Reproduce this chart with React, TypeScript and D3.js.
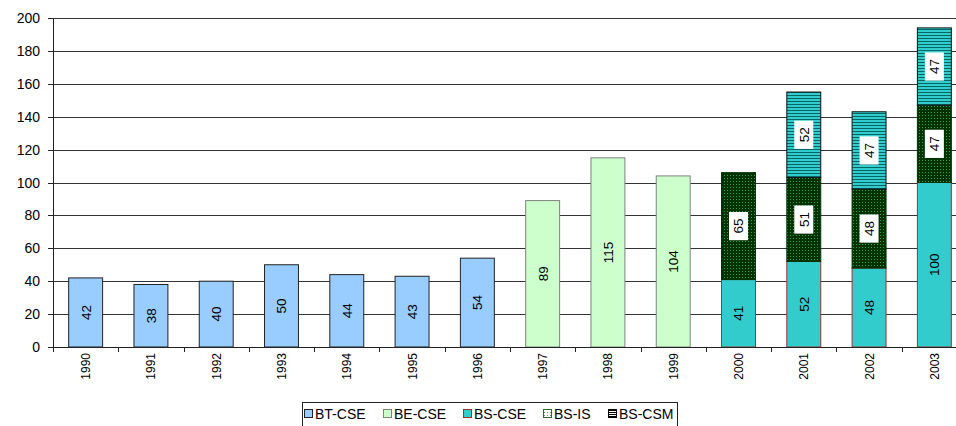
import * as d3 from "d3"

const years = ["1990", "1991", "1992", "1993", "1994", "1995", "1996", "1997", "1998", "1999", "2000", "2001", "2002", "2003"]
const btCse = [42, 38, 40, 50, 44, 43, 54, 0, 0, 0, 0, 0, 0, 0]
const beCse = [0, 0, 0, 0, 0, 0, 0, 89, 115, 104, 0, 0, 0, 0]
const bsCse = [0, 0, 0, 0, 0, 0, 0, 0, 0, 0, 41, 52, 48, 100]
const bsIs = [0, 0, 0, 0, 0, 0, 0, 0, 0, 0, 65, 51, 48, 47]
const bsCsm = [0, 0, 0, 0, 0, 0, 0, 0, 0, 0, 0, 52, 47, 47]
const yTicks = [0, 20, 40, 60, 80, 100, 120, 140, 160, 180, 200]

const keys = ["BT-CSE", "BE-CSE", "BS-CSE", "BS-IS", "BS-CSM"]
const seriesValues = [btCse, beCse, bsCse, bsIs, bsCsm]

const styles: Record<string, { fill: string; stroke: string; boxed: boolean }> = {
  "BT-CSE": { fill: "#99ccff", stroke: "#222", boxed: false },
  "BE-CSE": { fill: "#ccffcc", stroke: "#808080", boxed: false },
  "BS-CSE": { fill: "#33cccc", stroke: "#993333", boxed: false },
  "BS-IS": { fill: "url(#dots)", stroke: "#003300", boxed: true },
  "BS-CSM": { fill: "url(#stripes)", stroke: "#111", boxed: true },
}

const W = 956
const H = 426
const left = 53
const right = 967
const top = 18
const bottom = 347
const font = "'Liberation Sans', Arial, sans-serif"

export default function App() {
  const rows = years.map((y, i) => {
    const r: any = { year: y }
    keys.forEach((k, j) => (r[k] = seriesValues[j][i]))
    return r
  })
  const stacked = d3.stack<any>().keys(keys)(rows)

  const x = d3.scaleBand().domain(years).range([left, right]).padding(0)
  const y = d3.scaleLinear().domain([0, 200]).range([bottom, top])
  const barW = x.bandwidth() * 0.52

  // legend swatch offsets
  const legendX = [304, 383, 463, 543, 608]

  return (
    <svg width={W} height={H} style={{ position: "absolute", left: 0, top: 0 }} fontFamily={font}>
      <defs>
        <pattern id="dots" width={3} height={3} patternUnits="userSpaceOnUse">
          <rect width={3} height={3} fill="#003300" />
          <rect x={1} y={1} width={1} height={1} fill="#339966" />
        </pattern>
        <pattern id="stripes" width={4} height={3} patternUnits="userSpaceOnUse">
          <rect width={4} height={3} fill="#33cccc" />
          <rect y={2} width={4} height={1} fill="#006666" />
        </pattern>
        <pattern id="ldots" width={3} height={3} patternUnits="userSpaceOnUse">
          <rect width={3} height={3} fill="#ffffff" />
          <rect x={1} y={1} width={1} height={1} fill="#669966" />
        </pattern>
        <pattern id="lstripes" width={4} height={2} patternUnits="userSpaceOnUse">
          <rect width={4} height={2} fill="#ffffff" />
          <rect width={4} height={1} fill="#000" />
        </pattern>
      </defs>
      <rect width={W} height={H} fill="#fff" />

      {yTicks.map((t) => (
        <g key={t}>
          {t > 0 && (
            <line x1={left} x2={right} y1={Math.round(y(t)) + 0.5} y2={Math.round(y(t)) + 0.5} stroke="#333" />
          )}
          <line x1={left - 5} x2={left} y1={Math.round(y(t)) + 0.5} y2={Math.round(y(t)) + 0.5} stroke="#222" />
          <text x={40} y={y(t) + 5} textAnchor="end" fontSize={14}>
            {t}
          </text>
        </g>
      ))}

      {stacked.map((s) =>
        s.map((d, i) => {
          const v = d[1] - d[0]
          if (v <= 0) return null
          const st = styles[s.key]
          const cx = (x(years[i]) as number) + x.bandwidth() / 2
          const y0 = y(d[0])
          const y1 = y(d[1])
          return (
            <rect
              key={s.key + i}
              x={cx - barW / 2}
              y={y1}
              width={barW}
              height={y0 - y1}
              fill={st.fill}
              stroke={st.stroke}
              strokeWidth={1}
            />
          )
        })
      )}

      {stacked.map((s) =>
        s.map((d, i) => {
          const v = d[1] - d[0]
          if (v <= 0) return null
          const st = styles[s.key]
          const cx = (x(years[i]) as number) + x.bandwidth() / 2
          const cy = (y(d[0]) + y(d[1])) / 2
          const label = String(v)
          const boxH = label.length * 7.6 + 13
          return (
            <g key={"l" + s.key + i} transform={`translate(${cx},${cy}) rotate(-90)`}>
              {st.boxed && <rect x={-boxH / 2} y={-9.5} width={boxH} height={19} fill="#fff" />}
              <text textAnchor="middle" dy="0.36em" fontSize={13.5}>
                {label}
              </text>
            </g>
          )
        })
      )}

      <line x1={left + 0.5} x2={left + 0.5} y1={top} y2={bottom} stroke="#222" />
      <line x1={left} x2={right} y1={bottom + 0.5} y2={bottom + 0.5} stroke="#222" />
      {years.map((yr) => (
        <line
          key={"t" + yr}
          x1={Math.round(x(yr) as number) + 0.5}
          x2={Math.round(x(yr) as number) + 0.5}
          y1={bottom}
          y2={bottom + 5}
          stroke="#222"
        />
      ))}
      {years.map((yr) => (
        <text
          key={"x" + yr}
          transform={`translate(${(x(yr) as number) + x.bandwidth() / 2 + 4.5},${bottom + 6}) rotate(-90)`}
          textAnchor="end"
          fontSize={12}
        >
          {yr}
        </text>
      ))}

      <rect x={302.5} y={402.5} width={375} height={30} fill="#fff" stroke="#222" />
      {keys.map((k, i) => (
        <g key={k}>
          <rect
            x={legendX[i] + 0.5}
            y={409.5}
            width={8}
            height={8}
            fill={k === "BS-IS" ? "url(#ldots)" : k === "BS-CSM" ? "url(#lstripes)" : styles[k].fill}
            stroke={k === "BS-IS" ? "#336633" : k === "BS-CSM" ? "#000" : styles[k].stroke}
          />
          <text x={legendX[i] + 11} y={419} fontSize={14}>
            {k}
          </text>
        </g>
      ))}
    </svg>
  )
}
